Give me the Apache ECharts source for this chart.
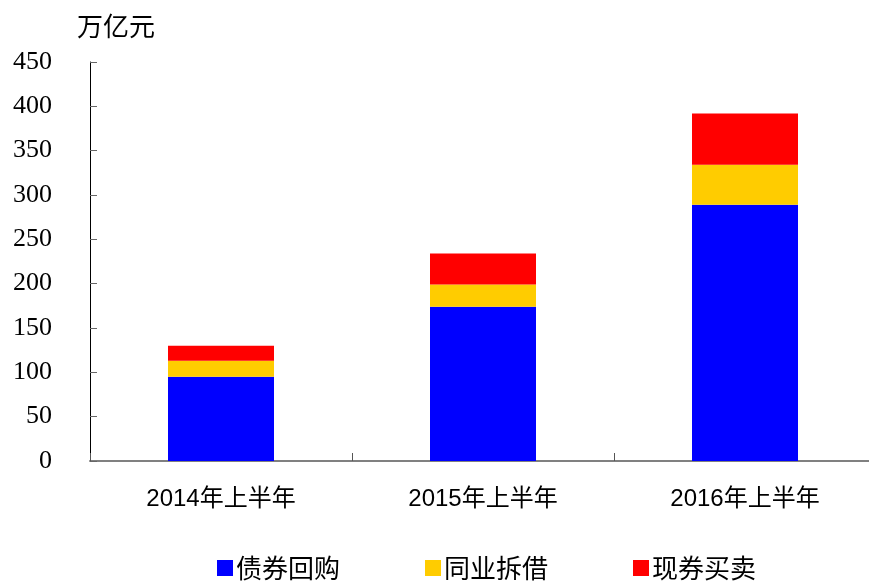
<!DOCTYPE html>
<html>
<head>
<meta charset="utf-8">
<script src="https://cdn.jsdelivr.net/npm/echarts@6/dist/echarts.min.js"></script>
<style>html,body{margin:0;padding:0;background:#fff;overflow:hidden;width:869px;height:581px;}#c{width:876px;height:581px;}</style>
</head>
<body>
<div id="c"></div>
<script>
var categories = ['2014年上半年', '2015年上半年', '2016年上半年'];
var repo = [95, 174, 289];
var interbank = [18, 25, 45];
var spot = [17, 35, 58];
var yTicks = [0, 50, 100, 150, 200, 250, 300, 350, 400, 450];
var seriesNames = ['债券回购', '同业拆借', '现券买卖'];

var chart = echarts.init(document.getElementById('c'));
chart.setOption({
  animation: false,
  backgroundColor: '#fff',
  title: {
    text: '万亿元', left: 72, top: 8,
    textStyle: { fontSize: 26, fontWeight: 'normal', color: '#000', fontFamily: 'Noto Sans CJK SC' }
  },
  legend: {
    data: seriesNames, left: 212, top: 550,
    icon: 'rect', itemWidth: 16, itemHeight: 16, itemGap: 85,
    textStyle: { fontSize: 26, color: '#000', fontFamily: 'Noto Sans CJK SC', padding: [0, 0, 0, -2] }
  },
  grid: { left: 90, right: 0, top: 62, bottom: 120, containLabel: false },
  xAxis: {
    type: 'category', data: categories,
    axisLine: { lineStyle: { color: '#808080', width: 2 } },
    axisTick: { show: true, inside: true, length: 8, lineStyle: { color: '#555', width: 1 } },
    axisLabel: { fontSize: 24, color: '#000', margin: 26, fontFamily: 'Liberation Sans, Noto Sans CJK SC' }
  },
  yAxis: {
    type: 'value', min: 0, max: 450, interval: 50,
    axisLine: { show: true, lineStyle: { color: '#000', width: 1 } },
    axisTick: { show: true, inside: true, length: 7, lineStyle: { color: '#666' } },
    splitLine: { show: false },
    axisLabel: {
      fontSize: 26, color: '#000', margin: 38, fontFamily: 'Liberation Serif',
      formatter: function (v) { return yTicks.indexOf(v) >= 0 ? String(v) : ''; }
    }
  },
  series: [
    { name: seriesNames[0], type: 'bar', stack: 's', data: repo, barWidth: 106, itemStyle: { color: '#0000FF' } },
    { name: seriesNames[1], type: 'bar', stack: 's', data: interbank, barWidth: 106, itemStyle: { color: '#FFCC00' } },
    { name: seriesNames[2], type: 'bar', stack: 's', data: spot, barWidth: 106, itemStyle: { color: '#FF0000' } }
  ]
});
</script>
</body>
</html>
